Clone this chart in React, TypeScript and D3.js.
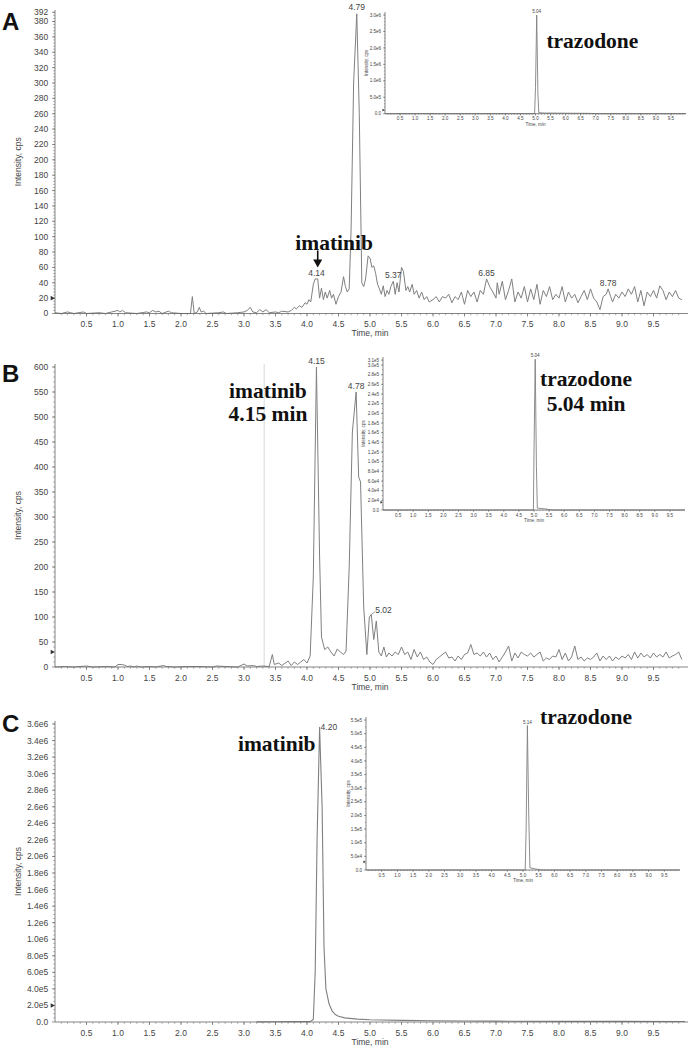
import React from "react";
import * as d3 from "d3";

type Pt = [number, number];

const timeLabels = [0.5, 1.0, 1.5, 2.0, 2.5, 3.0, 3.5, 4.0, 4.5, 5.0, 5.5, 6.0, 6.5, 7.0, 7.5, 8.0, 8.5, 9.0, 9.5];

const yTicksA = [0, 20, 40, 60, 80, 100, 120, 140, 160, 180, 200, 220, 240, 260, 280, 300, 320, 340, 360, 380, 392];
const yTicksB = [0, 50, 100, 150, 200, 250, 300, 350, 400, 450, 500, 550, 600];
const yTicksC = [0, 2e5, 4e5, 6e5, 8e5, 1e6, 1.2e6, 1.4e6, 1.6e6, 1.8e6, 2e6, 2.2e6, 2.4e6, 2.6e6, 2.8e6, 3e6, 3.2e6, 3.4e6, 3.6e6];
const yTicksInsetA = [0, 5e5, 1e6, 1.5e6, 2e6, 2.5e6, 3e6];
const yTicksInsetB = [0, 2e4, 4e4, 6e4, 8e4, 1e5, 1.2e5, 1.4e5, 1.6e5, 1.8e5, 2e5, 2.2e5, 2.4e5, 2.6e5, 2.8e5, 3e5, 3.1e5];
const yTicksInsetC = [0, 5e4, 1e5, 1.5e5, 2e5, 2.5e5, 3e5, 3.5e5, 4e5, 4.5e5, 5e5, 5.5e5];

// Panel A: imatinib channel, blank-ish sample (cps)
const traceA: Pt[] = [
  [0, 1], [0.1, 0], [0.2, 2], [0.25, 1], [0.3, 0], [0.45, 2], [0.5, 0], [0.7, 1], [0.8, 0], [1.0, 4], [1.03, 2], [1.07, 4],
  [1.12, 1], [1.3, 0], [1.45, 2], [1.5, 1], [1.55, 4], [1.6, 2], [1.65, 3], [1.7, 0], [1.8, 3], [1.85, 1], [2.0, 0], [2.15, 0],
  [2.18, 22], [2.21, 0], [2.26, 2], [2.29, 8], [2.32, 2], [2.36, 3], [2.4, 0], [2.6, 1], [2.67, 2], [2.72, 0], [2.9, 1], [3.0, 2],
  [3.05, 4], [3.1, 8], [3.14, 2], [3.2, 1], [3.25, 5], [3.3, 2], [3.35, 5], [3.4, 1], [3.5, 2], [3.55, 1], [3.6, 3], [3.7, 2],
  [3.75, 4], [3.8, 8], [3.83, 6], [3.88, 10], [3.92, 8], [3.97, 14], [4.0, 12], [4.03, 18], [4.06, 15], [4.1, 38], [4.13, 45],
  [4.17, 45], [4.2, 20], [4.23, 33], [4.26, 18], [4.29, 28], [4.32, 20], [4.36, 30], [4.39, 20], [4.42, 25], [4.46, 12], [4.5, 22],
  [4.54, 28], [4.58, 48], [4.61, 35], [4.64, 28], [4.67, 32], [4.7, 110], [4.74, 300], [4.79, 390], [4.83, 260], [4.87, 40],
  [4.9, 35], [4.93, 45], [4.97, 75], [5.0, 72], [5.03, 60], [5.06, 62], [5.09, 52], [5.12, 38], [5.15, 32], [5.18, 25], [5.21, 36],
  [5.24, 22], [5.27, 30], [5.3, 25], [5.33, 35], [5.37, 42], [5.4, 25], [5.43, 40], [5.46, 28], [5.5, 60], [5.53, 55], [5.57, 30],
  [5.6, 35], [5.63, 28], [5.67, 38], [5.7, 25], [5.74, 30], [5.78, 20], [5.82, 28], [5.86, 18], [5.9, 22], [5.94, 15],
  [6.0, 18], [6.05, 22], [6.1, 15], [6.15, 22], [6.2, 20], [6.25, 25], [6.3, 14], [6.35, 22], [6.4, 18], [6.45, 28], [6.5, 12],
  [6.55, 30], [6.6, 22], [6.65, 28], [6.7, 15], [6.75, 30], [6.8, 25], [6.85, 45], [6.9, 35], [6.95, 28], [7.0, 20], [7.02, 40],
  [7.05, 25], [7.1, 42], [7.15, 18], [7.2, 30], [7.25, 45], [7.3, 15], [7.35, 28], [7.4, 20], [7.45, 35], [7.5, 15], [7.55, 32],
  [7.6, 18], [7.65, 38], [7.7, 12], [7.75, 30], [7.8, 22], [7.85, 35], [7.9, 18], [7.95, 25], [8.0, 20], [8.05, 35], [8.1, 15],
  [8.15, 28], [8.2, 20], [8.25, 25], [8.3, 14], [8.35, 22], [8.4, 30], [8.45, 18], [8.5, 32], [8.55, 20], [8.6, 15], [8.65, 5],
  [8.7, 22], [8.75, 25], [8.78, 32], [8.82, 22], [8.85, 15], [8.9, 25], [8.95, 20], [9.0, 28], [9.05, 22], [9.1, 32], [9.15, 25],
  [9.2, 35], [9.25, 15], [9.3, 30], [9.35, 10], [9.4, 28], [9.45, 22], [9.5, 30], [9.55, 20], [9.6, 36], [9.65, 30], [9.7, 18],
  [9.75, 28], [9.8, 22], [9.85, 30], [9.9, 20], [9.95, 18],
];

// Panel B: LLOQ sample (cps)
const traceB: Pt[] = [
  [0, 0], [0.15, 1], [0.3, 0], [0.5, 2], [0.6, 0], [0.8, 1], [0.95, 0], [1.0, 5], [1.05, 5], [1.1, 4], [1.15, 1], [1.2, 2],
  [1.25, 0], [1.3, 2], [1.35, 0], [1.5, 1], [1.6, 0], [1.72, 3], [1.77, 1], [1.9, 0], [2.1, 1], [2.3, 1], [2.5, 0], [2.57, 2],
  [2.7, 1], [2.9, 0], [3.0, 6], [3.05, 2], [3.15, 3], [3.2, 1], [3.3, 2], [3.4, 1], [3.45, 25], [3.48, 5], [3.55, 8], [3.6, 3],
  [3.7, 12], [3.75, 3], [3.8, 10], [3.85, 5], [3.9, 10], [3.95, 15], [4.0, 8], [4.05, 22], [4.1, 180], [4.15, 600], [4.2, 220],
  [4.23, 60], [4.28, 35], [4.33, 40], [4.38, 30], [4.43, 22], [4.48, 36], [4.53, 30], [4.58, 25], [4.62, 32], [4.67, 200],
  [4.72, 470], [4.78, 550], [4.82, 380], [4.85, 370], [4.9, 120], [4.95, 25], [4.99, 100], [5.02, 105], [5.06, 55], [5.1, 92],
  [5.14, 30], [5.18, 22], [5.22, 40], [5.26, 20], [5.3, 28], [5.35, 22], [5.4, 30], [5.45, 25], [5.5, 40], [5.55, 25], [5.6, 30],
  [5.65, 15], [5.7, 35], [5.75, 20], [5.8, 30], [5.85, 15], [5.9, 20], [5.95, 10], [6.0, 5], [6.05, 15], [6.1, 20], [6.2, 30],
  [6.25, 18], [6.3, 20], [6.35, 12], [6.4, 22], [6.45, 15], [6.5, 25], [6.55, 28], [6.6, 45], [6.65, 25], [6.7, 28], [6.75, 22],
  [6.8, 30], [6.85, 20], [6.9, 28], [6.95, 15], [7.0, 22], [7.05, 10], [7.1, 20], [7.15, 30], [7.2, 42], [7.25, 12], [7.3, 28],
  [7.35, 18], [7.4, 30], [7.45, 25], [7.5, 22], [7.55, 28], [7.6, 20], [7.65, 25], [7.7, 30], [7.75, 12], [7.8, 18], [7.85, 15],
  [7.9, 22], [7.95, 20], [8.0, 35], [8.05, 15], [8.1, 28], [8.15, 12], [8.2, 20], [8.25, 42], [8.3, 15], [8.35, 20], [8.4, 12],
  [8.45, 18], [8.5, 15], [8.55, 20], [8.6, 28], [8.65, 12], [8.7, 22], [8.75, 15], [8.8, 22], [8.85, 12], [8.9, 20], [8.95, 15],
  [9.0, 22], [9.05, 18], [9.1, 25], [9.15, 15], [9.2, 30], [9.25, 18], [9.3, 28], [9.35, 20], [9.4, 25], [9.45, 18], [9.5, 28],
  [9.55, 20], [9.6, 25], [9.65, 20], [9.7, 30], [9.75, 18], [9.8, 22], [9.85, 25], [9.9, 30], [9.95, 15],
];

// Panel C: high-concentration sample (cps)
const traceC: Pt[] = [
  [3.2, 2e3], [3.5, 3e3], [3.8, 4e3], [4.05, 5e3], [4.1, 3e4], [4.13, 6e5], [4.16, 2.2e6], [4.2, 3.56e6], [4.24, 2.6e6],
  [4.27, 9e5], [4.3, 4e5], [4.35, 2.2e5], [4.4, 1.3e5], [4.45, 9e4], [4.5, 7e4], [4.6, 5e4], [4.8, 3.5e4], [5.0, 2.8e4],
  [5.5, 2e4], [6.0, 1.5e4], [6.5, 1.2e4], [7.0, 1e4], [8.0, 8e3], [9.0, 7e3], [10, 6e3],
];

// Insets: trazodone (internal standard) channel
const insetTraceA: Pt[] = [
  [0, 0], [4.97, 0], [5.0, 8e5], [5.04, 3.0e6], [5.08, 6e5], [5.11, 3e4], [5.3, 2e4], [6.0, 1.5e4], [6.8, 1e4], [7.0, 0], [10, 0],
];
const insetTraceB: Pt[] = [
  [0, 0], [4.98, 0], [5.0, 1.2e5], [5.04, 3.12e5], [5.08, 9e4], [5.11, 4e3], [5.4, 2e3], [5.6, 0], [10, 0],
];
const insetTraceC: Pt[] = [
  [0, 0], [5.07, 0], [5.1, 1.5e5], [5.14, 5.3e5], [5.18, 2.2e5], [5.22, 8e3], [5.4, 4e3], [5.6, 0], [10, 0],
];

type PeakLabel = { t: number; v: number; text: string };
const peaksA: PeakLabel[] = [
  { t: 4.79, v: 390, text: "4.79" },
  { t: 4.15, v: 45, text: "4.14" },
  { t: 5.37, v: 42, text: "5.37" },
  { t: 6.85, v: 45, text: "6.85" },
  { t: 8.78, v: 32, text: "8.78" },
];
const peaksB: PeakLabel[] = [
  { t: 4.15, v: 600, text: "4.15" },
  { t: 4.78, v: 550, text: "4.78" },
];
const peaksInsetA: PeakLabel[] = [{ t: 5.04, v: 3.0e6, text: "5.04" }];
const peaksInsetB: PeakLabel[] = [{ t: 5.04, v: 3.12e5, text: "5.04" }];
const peaksInsetC: PeakLabel[] = [{ t: 5.14, v: 5.3e5, text: "5.14" }];

const SANS = "'Liberation Sans', Arial, sans-serif";
const SERIF = "'Liberation Serif', 'Times New Roman', serif";

const fmtInt = (v: number) => String(v);
const fmtExp = (v: number) => {
  if (v === 0) return "0.0";
  const e = Math.floor(Math.log10(v) + 1e-9);
  const m = v / Math.pow(10, e);
  return m.toFixed(1) + "e" + e;
};

type Cfg = {
  left: number;
  right: number;
  axisEnd: number;
  base: number;
  refVal: number;
  refY: number;
  axisTop: number;
  yTicks: number[];
  yMinor: number;
  yMax: number;
  fmt: (v: number) => string;
  fs: number;
  tickLen: number;
  data: Pt[];
  peaks: PeakLabel[];
  marker: number;
  ylabelX: number;
  xMinor: number;
  labelDy: number;
  titleDy: number;
  stroke: number;
};

function Chrom({ c }: { c: Cfg }) {
  const x = d3.scaleLinear().domain([0, 10]).range([c.left, c.right]);
  const y = d3.scaleLinear().domain([0, c.refVal]).range([c.base, c.refY]);
  const line = d3
    .line<Pt>()
    .x((d) => x(d[0]))
    .y((d) => y(d[1]));
  const minorX = d3.range(c.xMinor, 10, c.xMinor);
  const minorY = d3.range(c.yMinor, c.yMax + 1e-9, c.yMinor);
  const yMid = (c.base + c.axisTop) / 2;
  const mk = c.tickLen * 1.1;
  const my = y(c.marker);
  return (
    <g>
      <path d={line(c.data) || ""} fill="none" stroke="#808080" strokeWidth={c.stroke} strokeLinejoin="round" />
      <line x1={c.left} x2={c.left} y1={c.base} y2={c.axisTop} stroke="#666" strokeWidth={0.8} />
      <line x1={c.left} x2={c.axisEnd} y1={c.base} y2={c.base} stroke="#666" strokeWidth={0.8} />
      {minorX.map((t, i) => (
        <line key={"mx" + i} x1={x(t)} x2={x(t)} y1={c.base} y2={c.base + c.tickLen * 0.6} stroke="#777" strokeWidth={0.6} />
      ))}
      {timeLabels.map((t, i) => (
        <g key={"xl" + i}>
          <line x1={x(t)} x2={x(t)} y1={c.base} y2={c.base + c.tickLen} stroke="#666" strokeWidth={0.7} />
          <text x={x(t)} y={c.base + c.labelDy} fontSize={c.fs} fontFamily={SANS} fill="#444" textAnchor="middle">
            {t.toFixed(1)}
          </text>
        </g>
      ))}
      {minorY.map((v, i) => (
        <line key={"my" + i} x1={c.left - c.tickLen * 0.6} x2={c.left} y1={y(v)} y2={y(v)} stroke="#777" strokeWidth={0.6} />
      ))}
      {c.yTicks.map((v, i) => (
        <g key={"yl" + i}>
          <line x1={c.left - c.tickLen} x2={c.left} y1={y(v)} y2={y(v)} stroke="#666" strokeWidth={0.7} />
          <text
            x={c.left - c.tickLen - c.fs * 0.45}
            y={y(v)}
            dy="0.35em"
            fontSize={c.fs}
            fontFamily={SANS}
            fill="#444"
            textAnchor="end"
          >
            {c.fmt(v)}
          </text>
        </g>
      ))}
      <path d={`M${c.left - mk * 1.3},${my - mk * 0.7} L${c.left - 0.3},${my} L${c.left - mk * 1.3},${my + mk * 0.7} Z`} fill="#333" />
      <text
        x={(c.left + c.right) / 2}
        y={c.base + c.titleDy}
        fontSize={c.fs}
        fontFamily={SANS}
        fill="#444"
        textAnchor="middle"
      >
        Time, min
      </text>
      <text
        transform={`translate(${c.ylabelX},${yMid}) rotate(-90)`}
        fontSize={c.fs}
        fontFamily={SANS}
        fill="#444"
        textAnchor="middle"
      >
        Intensity, cps
      </text>
      {c.peaks.map((p, i) => (
        <text
          key={"pk" + i}
          x={x(p.t)}
          y={y(p.v) - c.fs * 0.4}
          fontSize={c.fs}
          fontFamily={SANS}
          fill="#444"
          textAnchor="middle"
        >
          {p.text}
        </text>
      ))}
    </g>
  );
}

const mainBase = {
  left: 55,
  right: 685,
  axisEnd: 688,
  fs: 8.5,
  tickLen: 3,
  ylabelX: 21,
  xMinor: 0.1,
  labelDy: 13.5,
  titleDy: 22.5,
  stroke: 1,
};
const insetBase = {
  fs: 4.6,
  tickLen: 1.8,
  xMinor: 0.1,
  labelDy: 6.5,
  titleDy: 12,
  stroke: 0.9,
};

const cfgA: Cfg = {
  ...mainBase,
  base: 313.5,
  refVal: 392,
  refY: 12.3,
  axisTop: 10,
  yTicks: yTicksA,
  yMinor: 4,
  yMax: 392,
  fmt: fmtInt,
  data: traceA,
  peaks: peaksA,
  marker: 20,
};
const cfgB: Cfg = {
  ...mainBase,
  base: 667,
  refVal: 600,
  refY: 367,
  axisTop: 364,
  yTicks: yTicksB,
  yMinor: 10,
  yMax: 600,
  fmt: fmtInt,
  data: traceB,
  peaks: peaksB,
  marker: 30,
};
const cfgC: Cfg = {
  ...mainBase,
  base: 1022,
  refVal: 3.6e6,
  refY: 724,
  axisTop: 721,
  yTicks: yTicksC,
  yMinor: 5e4,
  yMax: 3.6e6,
  fmt: fmtExp,
  data: traceC,
  peaks: [],
  marker: 2e5,
  stroke: 1.1,
};
const cfgIA: Cfg = {
  ...insetBase,
  left: 385,
  right: 686,
  axisEnd: 686,
  base: 113.7,
  refVal: 3.0e6,
  refY: 15,
  axisTop: 12,
  yTicks: yTicksInsetA,
  yMinor: 1e5,
  yMax: 3.0e6,
  fmt: fmtExp,
  data: insetTraceA,
  peaks: peaksInsetA,
  marker: 1.1e5,
  ylabelX: 368,
};
const cfgIB: Cfg = {
  ...insetBase,
  left: 383,
  right: 685,
  axisEnd: 685,
  base: 510,
  refVal: 3.0e5,
  refY: 365,
  axisTop: 357,
  yTicks: yTicksInsetB,
  yMinor: 1e4,
  yMax: 3.1e5,
  fmt: fmtExp,
  data: insetTraceB,
  peaks: peaksInsetB,
  marker: 1.6e4,
  ylabelX: 365,
};
const cfgIC: Cfg = {
  ...insetBase,
  left: 366,
  right: 680,
  axisEnd: 680,
  base: 870,
  refVal: 5.5e5,
  refY: 720,
  axisTop: 717,
  yTicks: yTicksInsetC,
  yMinor: 2.5e4,
  yMax: 5.5e5,
  fmt: fmtExp,
  data: insetTraceC,
  peaks: peaksInsetC,
  marker: 3e4,
  ylabelX: 350,
};

type Note = { t: number; v: number; text: string };
const notesA: Note[] = [
  { t: 4.43, v: 82, text: "imatinib" },
  { t: 8.53, v: 346, text: "trazodone" },
];
const notesB: Note[] = [
  { t: 3.38, v: 538, text: "imatinib" },
  { t: 3.38, v: 492, text: "4.15 min" },
  { t: 8.43, v: 562, text: "trazodone" },
  { t: 8.43, v: 512, text: "5.04 min" },
];
const notesC: Note[] = [
  { t: 3.52, v: 3.27e6, text: "imatinib" },
  { t: 8.43, v: 3.6e6, text: "trazodone" },
];

function scalesFor(c: Cfg) {
  return {
    x: d3.scaleLinear().domain([0, 10]).range([c.left, c.right]),
    y: d3.scaleLinear().domain([0, c.refVal]).range([c.base, c.refY]),
  };
}

function Notes({ c, notes }: { c: Cfg; notes: Note[] }) {
  const { x, y } = scalesFor(c);
  return (
    <g>
      {notes.map((n, i) => (
        <text
          key={i}
          x={x(n.t)}
          y={y(n.v)}
          fontFamily={SERIF}
          fontWeight="bold"
          fontSize={21.5}
          fill="#111"
          textAnchor="middle"
        >
          {n.text}
        </text>
      ))}
    </g>
  );
}

export default function App() {
  const sA = scalesFor(cfgA);
  const sB = scalesFor(cfgB);
  const sC = scalesFor(cfgC);
  const arrowX = sA.x(4.17);
  const arrowTop = sA.y(82);
  const arrowTip = sA.y(60);
  const p502x = sB.x(5.02);
  const p502y = sB.y(105);
  const p420x = sC.x(4.2);
  const p420y = sC.y(3.56e6);
  return (
    <svg width={690} height={1050} style={{ position: "absolute", left: 0, top: 0, background: "#fff" }}>
      <rect x={0} y={0} width={690} height={1050} fill="#fff" />
      <line x1={sB.x(3.32)} x2={sB.x(3.32)} y1={cfgB.axisTop} y2={cfgB.base} stroke="#cfcfcf" strokeWidth={0.8} />
      <Chrom c={cfgA} />
      <Chrom c={cfgB} />
      <Chrom c={cfgC} />
      <Chrom c={cfgIA} />
      <Chrom c={cfgIB} />
      <Chrom c={cfgIC} />
      <line x1={p502x} y1={p502y} x2={p502x + 4} y2={p502y - 3} stroke="#666" strokeWidth={0.6} />
      <text x={p502x + 4} y={p502y - 2} fontSize={8.5} fontFamily={SANS} fill="#444">
        5.02
      </text>
      <text x={p420x + 1} y={p420y + 3} fontSize={8.5} fontFamily={SANS} fill="#444">
        4.20
      </text>
      <line x1={arrowX} x2={arrowX} y1={arrowTop} y2={arrowTip - 6} stroke="#111" strokeWidth={1.6} />
      <path d={`M${arrowX - 4.5},${arrowTip - 8} L${arrowX + 4.5},${arrowTip - 8} L${arrowX},${arrowTip} Z`} fill="#111" />
      <Notes c={cfgA} notes={notesA} />
      <Notes c={cfgB} notes={notesB} />
      <Notes c={cfgC} notes={notesC} />
      <text x={2} y={30} fontFamily={SANS} fontWeight="bold" fontSize={24} fill="#111">A</text>
      <text x={2} y={382} fontFamily={SANS} fontWeight="bold" fontSize={24} fill="#111">B</text>
      <text x={2} y={732} fontFamily={SANS} fontWeight="bold" fontSize={24} fill="#111">C</text>
    </svg>
  );
}
